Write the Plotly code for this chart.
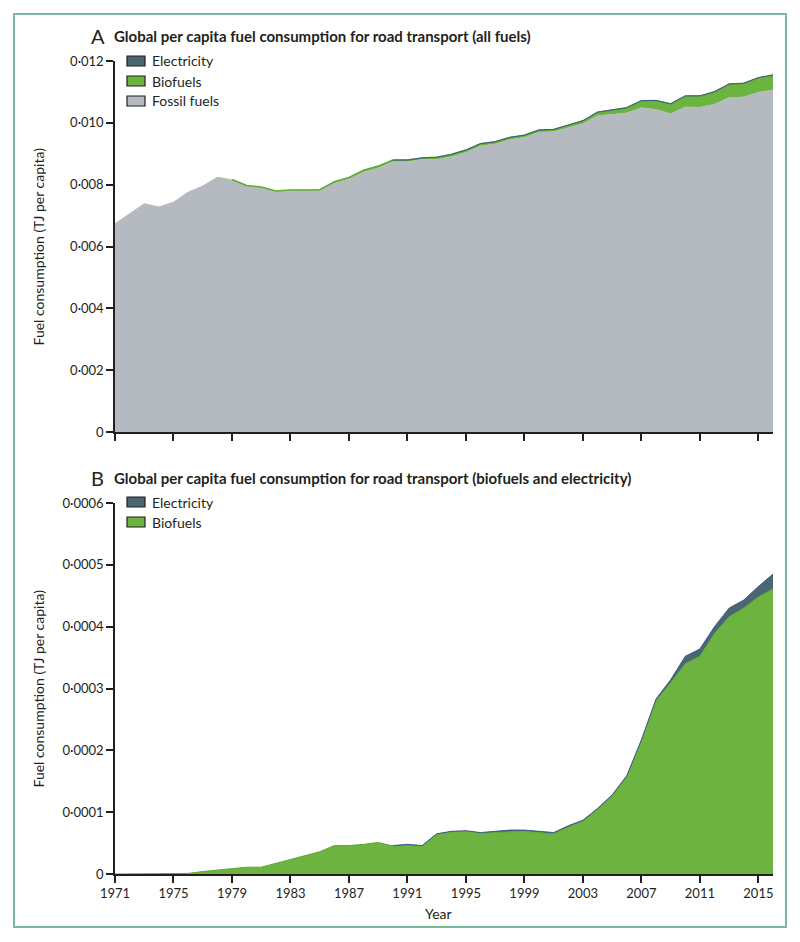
import numpy as np
import plotly.graph_objects as go

# ---------------- data ----------------
years = list(range(1971, 2017))

fossil_fuels = [
    0.00675, 0.00707, 0.00740, 0.00729, 0.00745, 0.00777, 0.00797, 0.00825, 0.00816, 0.00796,
    0.00791, 0.00778, 0.00780, 0.00780, 0.00780, 0.00805, 0.00819, 0.00842, 0.00855, 0.00875,
    0.00875, 0.00882, 0.00882, 0.00891, 0.00905, 0.00926, 0.00932, 0.00946, 0.00953, 0.00970,
    0.00972, 0.00985, 0.00998, 0.01024, 0.01028, 0.01033, 0.01050, 0.01044, 0.01030, 0.01052,
    0.01051, 0.01061, 0.01083, 0.01084, 0.01100, 0.01107,
]

biofuels = [
    0.0, 0.0, 0.0, 0.0, 0.0, 0.000001, 0.000004, 0.0000065, 0.000009, 0.000011,
    0.000011, 0.000017, 0.000024, 0.000029, 0.000036, 0.000046, 0.000046, 0.000048, 0.000051, 0.000045,
    0.000046, 0.000045, 0.000064, 0.000068, 0.000069, 0.000066, 0.000067, 0.000069, 0.000069, 0.000067,
    0.000065, 0.000076, 0.000085, 0.000104, 0.000126, 0.000157, 0.000215, 0.000280, 0.000309, 0.000340,
    0.000352, 0.000389, 0.000416, 0.000430, 0.000448, 0.000461,
]

electricity = [
    0.0, 0.0, 0.0, 0.0, 0.0, 0.0, 0.0, 0.0, 0.0, 0.0,
    0.0, 0.0, 0.0, 0.0, 0.0, 0.0, 0.0, 0.0, 0.0, 0.000001,
    0.000002, 0.000001, 0.000001, 0.000001, 0.000001, 0.000001, 0.000002, 0.000002, 0.000002, 0.000002,
    0.000002, 0.000002, 0.000002, 0.000002, 0.000002, 0.000002, 0.000002, 0.000003, 0.000005, 0.000012,
    0.000012, 0.000011, 0.000014, 0.000013, 0.000017, 0.000024,
]

x_tick_vals = [1971, 1975, 1979, 1983, 1987, 1991, 1995, 1999, 2003, 2007, 2011, 2015]
x_tick_text = ["1971", "1975", "1979", "1983", "1987", "1991", "1995", "1999", "2003", "2007", "2011", "2015"]

ya_tick_vals = [0, 0.002, 0.004, 0.006, 0.008, 0.010, 0.012]
ya_tick_text = ["0", "0·002", "0·004", "0·006", "0·008", "0·010", "0·012"]

yb_tick_vals = [0, 0.0001, 0.0002, 0.0003, 0.0004, 0.0005, 0.0006]
yb_tick_text = ["0", "0·0001", "0·0002", "0·0003", "0·0004", "0·0005", "0·0006"]

title_a = "Global per capita fuel consumption for road transport (all fuels)"
title_b = "Global per capita fuel consumption for road transport (biofuels and electricity)"
y_title = "Fuel consumption (TJ per capita)"
x_title = "Year"

# ---------------- styles ----------------
W, H = 792, 934      # figure size (page body adds an 8px margin)
OFF = 8              # page body margin offset
FONT = "Lato"
C_FOSSIL = "#b4bac0"
C_BIO = "#6db33f"
C_BIO_LINE = "#5fa934"
C_ELEC = "#4a6670"
C_ELEC_LINE = "#3e5a8a"
C_AXIS = "#231f20"
C_FRAME = "#7ab997"

yr = np.array(years)
fos = np.array(fossil_fuels)
bio = np.array(biofuels)
ele = np.array(electricity)

a_bio_top = fos + bio
a_total = a_bio_top + ele
b_total = bio + ele

bio_line_mask = bio >= 0.000009
ele_line_mask = ele > 0

fig = go.Figure()

# Panel A fills
fig.add_trace(go.Scatter(x=yr, y=fos, mode="lines", fill="tozeroy", fillcolor=C_FOSSIL,
                         line=dict(width=0, color=C_FOSSIL), xaxis="x", yaxis="y", showlegend=False))
fig.add_trace(go.Scatter(x=yr, y=a_bio_top, mode="lines", fill="tonexty", fillcolor=C_BIO,
                         line=dict(width=0, color=C_BIO), xaxis="x", yaxis="y", showlegend=False))
fig.add_trace(go.Scatter(x=yr, y=a_total, mode="lines", fill="tonexty", fillcolor=C_ELEC,
                         line=dict(width=0, color=C_ELEC), xaxis="x", yaxis="y", showlegend=False))
# Panel A edge lines
fig.add_trace(go.Scatter(x=yr[bio_line_mask], y=a_bio_top[bio_line_mask], mode="lines",
                         line=dict(width=1.5, color=C_BIO_LINE), xaxis="x", yaxis="y", showlegend=False))
fig.add_trace(go.Scatter(x=yr[ele_line_mask], y=a_total[ele_line_mask], mode="lines",
                         line=dict(width=1, color=C_ELEC_LINE), xaxis="x", yaxis="y", showlegend=False))

# Panel B fills
fig.add_trace(go.Scatter(x=yr, y=bio, mode="lines", fill="tozeroy", fillcolor=C_BIO,
                         line=dict(width=0, color=C_BIO), xaxis="x2", yaxis="y2", showlegend=False))
fig.add_trace(go.Scatter(x=yr, y=b_total, mode="lines", fill="tonexty", fillcolor=C_ELEC,
                         line=dict(width=0, color=C_ELEC), xaxis="x2", yaxis="y2", showlegend=False))
fig.add_trace(go.Scatter(x=yr, y=bio, mode="lines",
                         line=dict(width=1, color=C_BIO_LINE), xaxis="x2", yaxis="y2", showlegend=False))
fig.add_trace(go.Scatter(x=yr[ele_line_mask], y=b_total[ele_line_mask], mode="lines",
                         line=dict(width=1, color=C_ELEC_LINE), xaxis="x2", yaxis="y2", showlegend=False))


def px(x):
    return (x - OFF) / W


def py(y):
    return 1 - (y - OFF) / H


axis_common = dict(showline=True, linecolor=C_AXIS, linewidth=1.5, ticks="outside", ticklen=7,
                   tickwidth=1.5, tickcolor=C_AXIS, showgrid=False, zeroline=False, automargin=False,
                   tickfont=dict(family=FONT, size=13, color=C_AXIS))

x_dom = [px(115), px(773)]
fig.update_layout(
    template="none",
    width=W, height=H, autosize=False, showlegend=False,
    margin=dict(l=0, r=0, t=0, b=0, pad=0, autoexpand=False),
    paper_bgcolor="white", plot_bgcolor="white",
    font=dict(family=FONT, color=C_AXIS),
    xaxis=dict(domain=x_dom, range=[1971, 2016], anchor="y", tickvals=x_tick_vals,
               showticklabels=False, **axis_common),
    yaxis=dict(domain=[py(432), py(61)], range=[0, 0.012], anchor="x", tickvals=ya_tick_vals,
               ticktext=ya_tick_text, **axis_common),
    xaxis2=dict(domain=x_dom, range=[1971, 2016], anchor="y2", tickvals=x_tick_vals,
                ticktext=x_tick_text, **axis_common),
    yaxis2=dict(domain=[py(874), py(503)], range=[0, 0.0006], anchor="x2", tickvals=yb_tick_vals,
                ticktext=yb_tick_text, **axis_common),
)

shapes = [dict(type="rect", xref="paper", yref="paper", x0=px(14), x1=px(786), y0=py(927), y1=py(14),
               line=dict(color=C_FRAME, width=2), fillcolor="rgba(0,0,0,0)", layer="below")]
annotations = []

# Panel titles
for letter, text, yc in [("A", title_a, 36), ("B", title_b, 478)]:
    annotations.append(dict(text=letter, x=px(89), y=py(yc), xref="paper", yref="paper",
                            xanchor="left", yanchor="middle", showarrow=False,
                            font=dict(family=FONT, size=20, color=C_AXIS)))
    annotations.append(dict(text=f"<b>{text}</b>", x=px(112), y=py(yc), xref="paper", yref="paper",
                            xanchor="left", yanchor="middle", showarrow=False,
                            font=dict(family=FONT, size=15, color=C_AXIS)))

# Y axis titles
for yc in [246.5, 688.5]:
    annotations.append(dict(text=y_title, x=px(38), y=py(yc), xref="paper", yref="paper",
                            xanchor="center", yanchor="middle", textangle=-90, showarrow=False,
                            font=dict(family=FONT, size=14, color=C_AXIS)))

# X axis title
annotations.append(dict(text=x_title, x=px(438), y=py(913), xref="paper", yref="paper",
                        xanchor="center", yanchor="middle", showarrow=False,
                        font=dict(family=FONT, size=14, color=C_AXIS)))

# Manual legends
legend_a = [("Electricity", C_ELEC), ("Biofuels", C_BIO), ("Fossil fuels", C_FOSSIL)]
legend_b = [("Electricity", C_ELEC), ("Biofuels", C_BIO)]
for items, y0 in [(legend_a, 61), (legend_b, 502)]:
    for i, (name, col) in enumerate(items):
        yc = y0 + i * 20
        shapes.append(dict(type="rect", xref="paper", yref="paper", x0=px(127), x1=px(145),
                           y0=py(yc + 5), y1=py(yc - 5), fillcolor=col,
                           line=dict(color=C_AXIS, width=1.2)))
        annotations.append(dict(text=name, x=px(150), y=py(yc), xref="paper", yref="paper",
                                xanchor="left", yanchor="middle", showarrow=False,
                                font=dict(family=FONT, size=14, color=C_AXIS)))

fig.update_layout(shapes=shapes, annotations=annotations)
fig.write_html("out.html")
